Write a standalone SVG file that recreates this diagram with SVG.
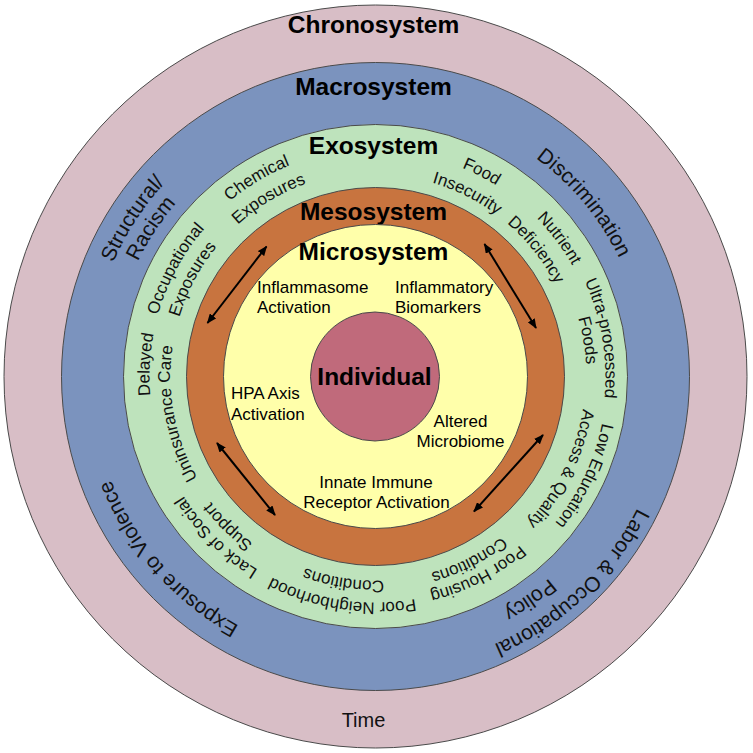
<svg xmlns="http://www.w3.org/2000/svg" xmlns:xlink="http://www.w3.org/1999/xlink" width="753" height="753" viewBox="0 0 753 753">
<style>
.ring{stroke:#4a4a4a;stroke-width:1}
.title{font-family:"Liberation Sans",Arial,sans-serif;font-weight:bold;font-size:24.5px;fill:#000;text-anchor:middle}
.lbl{font-family:"Liberation Sans",Arial,sans-serif;font-size:17px;fill:#000}
.blbl{font-family:"Liberation Sans",Arial,sans-serif;font-size:21px;fill:#111}
.glbl{font-family:"Liberation Sans",Arial,sans-serif;font-size:17px;fill:#111}
.arrow{stroke:#000;stroke-width:2;fill:none;marker-start:url(#ah);marker-end:url(#ah)}
</style>
<defs>
<marker id="ah" viewBox="0 0 10 8" refX="9" refY="4" markerWidth="10" markerHeight="8" markerUnits="userSpaceOnUse" orient="auto-start-reverse">
<path d="M0,0 L10,4 L0,8 z" fill="#000"/>
</marker>
<path id="r202" d="M375.5,578.5 A202,202 0 1,1 375.5,174.5 A202,202 0 1,1 375.5,578.5"/>
<path id="r204" d="M375.5,580.5 A204,204 0 1,1 375.5,172.5 A204,204 0 1,1 375.5,580.5"/>
<path id="r205" d="M375.5,581.5 A205,205 0 1,1 375.5,171.5 A205,205 0 1,1 375.5,581.5"/>
<path id="r207" d="M375.5,583.5 A207,207 0 1,1 375.5,169.5 A207,207 0 1,1 375.5,583.5"/>
<path id="r210" d="M375.5,586.5 A210,210 0 1,1 375.5,166.5 A210,210 0 1,1 375.5,586.5"/>
<path id="r211" d="M375.5,587.5 A211,211 0 1,1 375.5,165.5 A211,211 0 1,1 375.5,587.5"/>
<path id="r222" d="M375.5,598.5 A222,222 0 1,1 375.5,154.5 A222,222 0 1,1 375.5,598.5"/>
<path id="r226" d="M375.5,602.5 A226,226 0 1,1 375.5,150.5 A226,226 0 1,1 375.5,602.5"/>
<path id="r228" d="M375.5,604.5 A228,228 0 1,1 375.5,148.5 A228,228 0 1,1 375.5,604.5"/>
<path id="r230" d="M375.5,606.5 A230,230 0 1,1 375.5,146.5 A230,230 0 1,1 375.5,606.5"/>
<path id="r231" d="M375.5,608 A231.5,231.5 0 1,1 375.5,145 A231.5,231.5 0 1,1 375.5,608"/>
<path id="r264" d="M375.5,640.5 A264,264 0 1,1 375.5,112.5 A264,264 0 1,1 375.5,640.5"/>
<path id="r266" d="M375.5,642.5 A266,266 0 1,1 375.5,110.5 A266,266 0 1,1 375.5,642.5"/>
<path id="r271" d="M375.5,647.5 A271,271 0 1,1 375.5,105.5 A271,271 0 1,1 375.5,647.5"/>
<path id="r284" d="M375.5,660.5 A284,284 0 1,1 375.5,92.5 A284,284 0 1,1 375.5,660.5"/>
<path id="r286" d="M375.5,662.5 A286,286 0 1,1 375.5,90.5 A286,286 0 1,1 375.5,662.5"/>
<path id="r293" d="M375.5,669.5 A293,293 0 1,1 375.5,83.5 A293,293 0 1,1 375.5,669.5"/>
</defs>
<rect width="753" height="753" fill="#fff"/>

<g id="chronosystem">
<circle class="ring" cx="375.5" cy="376.5" r="371.5" fill="#D8BEC6"/>
<text class="title" x="373.5" y="33">Chronosystem</text>
<text x="363.5" y="727" font-family="Liberation Sans, Arial, sans-serif" font-size="20" fill="#111" text-anchor="middle">Time</text>
</g>

<g id="macrosystem">
<circle class="ring" cx="375.5" cy="376.5" r="314" fill="#7B93BE"/>
<text class="title" x="373.5" y="95">Macrosystem</text>
<text class="blbl" transform="rotate(-57 375.5 376.5)"><textPath href="#r286" startOffset="50%" text-anchor="middle">Structural/</textPath></text>
<text class="blbl" transform="rotate(-56.6 375.5 376.5)"><textPath href="#r264" startOffset="50%" text-anchor="middle">Racism</textPath></text>
<text class="blbl" transform="rotate(50.2 375.5 376.5)"><textPath href="#r271" startOffset="50%" text-anchor="middle">Discrimination</textPath></text>
<text class="blbl" transform="rotate(228.7 375.5 376.5)"><textPath href="#r284" startOffset="50%" text-anchor="middle">Exposure to Violence</textPath></text>
<text class="blbl" transform="rotate(136.4 375.5 376.5)"><textPath href="#r293" startOffset="50%" text-anchor="middle">Labor &amp; Occupational</textPath></text>
<text class="blbl" transform="rotate(145.3 375.5 376.5)"><textPath href="#r266" startOffset="50%" text-anchor="middle">Policy</textPath></text>
</g>

<g id="exosystem">
<circle class="ring" cx="375.5" cy="376.5" r="252" fill="#BEE3BC"/>
<text class="title" x="373.5" y="153.5">Exosystem</text>
<text class="glbl" transform="rotate(-30.9 375.5 376.5)"><textPath href="#r228" startOffset="50%" text-anchor="middle">Chemical</textPath></text>
<text class="glbl" transform="rotate(-31 375.5 376.5)"><textPath href="#r205" startOffset="50%" text-anchor="middle">Exposures</textPath></text>
<text class="glbl" transform="rotate(-61.7 375.5 376.5)"><textPath href="#r226" startOffset="50%" text-anchor="middle">Occupational</textPath></text>
<text class="glbl" transform="rotate(-62 375.5 376.5)"><textPath href="#r205" startOffset="50%" text-anchor="middle">Exposures</textPath></text>
<text class="glbl" transform="rotate(-87 375.5 376.5)"><textPath href="#r226" startOffset="50%" text-anchor="middle">Delayed</textPath></text>
<text class="glbl" transform="rotate(-100.6 375.5 376.5)"><textPath href="#r205" startOffset="50%" text-anchor="middle">Uninsurance Care</textPath></text>
<text class="glbl" transform="rotate(224.7 375.5 376.5)"><textPath href="#r226" startOffset="50%" text-anchor="middle">Lack of Social</textPath></text>
<text class="glbl" transform="rotate(224.5 375.5 376.5)"><textPath href="#r207" startOffset="50%" text-anchor="middle">Support</textPath></text>
<text class="glbl" transform="rotate(188.6 375.5 376.5)"><textPath href="#r226" startOffset="50%" text-anchor="middle">Poor Neighborhood</textPath></text>
<text class="glbl" transform="rotate(188.9 375.5 376.5)"><textPath href="#r204" startOffset="50%" text-anchor="middle">Conditions</textPath></text>
<text class="glbl" transform="rotate(152.6 375.5 376.5)"><textPath href="#r222" startOffset="50%" text-anchor="middle">Poor Housing</textPath></text>
<text class="glbl" transform="rotate(153 375.5 376.5)"><textPath href="#r204" startOffset="50%" text-anchor="middle">Conditions</textPath></text>
<text class="glbl" transform="rotate(115.4 375.5 376.5)"><textPath href="#r231" startOffset="50%" text-anchor="middle">Low Education</textPath></text>
<text class="glbl" transform="rotate(116.4 375.5 376.5)"><textPath href="#r210" startOffset="50%" text-anchor="middle">Access &amp; Quality</textPath></text>
<text class="glbl" transform="rotate(80.4 375.5 376.5)"><textPath href="#r230" startOffset="50%" text-anchor="middle">Ultra-processed</textPath></text>
<text class="glbl" transform="rotate(80.3 375.5 376.5)"><textPath href="#r211" startOffset="50%" text-anchor="middle">Foods</textPath></text>
<text class="glbl" transform="rotate(53 375.5 376.5)"><textPath href="#r226" startOffset="50%" text-anchor="middle">Nutrient</textPath></text>
<text class="glbl" transform="rotate(51.7 375.5 376.5)"><textPath href="#r202" startOffset="50%" text-anchor="middle">Deficiency</textPath></text>
<text class="glbl" transform="rotate(27.4 375.5 376.5)"><textPath href="#r226" startOffset="50%" text-anchor="middle">Food</textPath></text>
<text class="glbl" transform="rotate(26.6 375.5 376.5)"><textPath href="#r202" startOffset="50%" text-anchor="middle">Insecurity</textPath></text>
</g>

<g id="mesosystem">
<circle class="ring" cx="375.5" cy="376.5" r="189" fill="#C8743F"/>
<text class="title" x="373.5" y="219.5">Mesosystem</text>
</g>

<g id="microsystem">
<circle class="ring" cx="375.5" cy="376.5" r="152" fill="#FFFFAA"/>
<text class="title" x="373.5" y="260">Microsystem</text>
<text class="lbl" x="257" y="293.3">Inflammasome</text>
<text class="lbl" x="257" y="313.3">Activation</text>
<text class="lbl" x="395" y="293.3">Inflammatory</text>
<text class="lbl" x="395" y="313.3">Biomarkers</text>
<text class="lbl" x="231" y="399">HPA Axis</text>
<text class="lbl" x="231" y="420">Activation</text>
<text class="lbl" x="460.5" y="426.5" text-anchor="middle">Altered</text>
<text class="lbl" x="460.5" y="447" text-anchor="middle">Microbiome</text>
<text class="lbl" x="376" y="488.3" text-anchor="middle">Innate Immune</text>
<text class="lbl" x="376.5" y="508.3" text-anchor="middle">Receptor Activation</text>
</g>

<g id="individual">
<circle class="ring" cx="375" cy="376.5" r="64.5" fill="#C06A7B"/>
<text class="title" x="374.5" y="385">Individual</text>
</g>

<g id="connectors">
<line class="arrow" x1="207.5" y1="323" x2="266.5" y2="246.5"/>
<line class="arrow" x1="484.5" y1="244" x2="536" y2="328"/>
<line class="arrow" x1="217" y1="443" x2="275" y2="515"/>
<line class="arrow" x1="543" y1="435" x2="474" y2="511.5"/>
</g>
</svg>
